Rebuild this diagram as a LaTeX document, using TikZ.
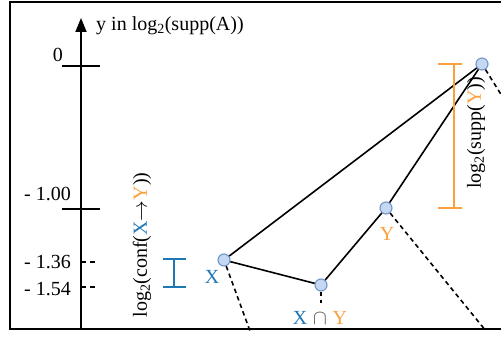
\documentclass[tikz,border=0pt]{standalone}
\usepackage{fontspec}
\setmainfont{Liberation Serif}
\usepackage{xcolor}
\usetikzlibrary{arrows.meta}

\definecolor{setblue}{RGB}{31,119,180}
\definecolor{setorange}{RGB}{250,160,60}
\definecolor{nodefill}{RGB}{198,216,241}
\definecolor{nodeline}{RGB}{110,148,204}
\definecolor{capgray}{RGB}{85,85,85}

\begin{document}
\begin{tikzpicture}[
    x=1pt, y=-1pt,
    every node/.style={font=\fontsize{20}{24}\selectfont, inner sep=1pt},
    itemset/.style={circle, draw=nodeline, fill=nodefill, line width=1.1pt,
                    minimum size=12pt, inner sep=0pt},
    edge/.style={line width=1.6pt},
    child/.style={line width=1.6pt, dash pattern=on 4.5pt off 3.5pt},
    tick/.style={line width=1.6pt},
    bar/.style={line width=1.8pt}
]
\useasboundingbox (0,0) rectangle (501,337);
\clip (0,0) rectangle (501,337);

% frame
\draw[line width=2.2pt] (520,2) -- (10,2) -- (10,329) -- (520,329);

% axis
\coordinate (axisbot) at (81,329);
\coordinate (axistop) at (81,18);
\draw[line width=1.8pt, -{Triangle[length=14pt, width=11pt]}] (axisbot) -- (axistop);
\node (axislabel) [anchor=west] at (95,26) {y in log\textsubscript{2}(supp(A))};

\coordinate (t0) at (81,66);
\coordinate (t1) at (81,209);
\coordinate (t2) at (81,262);
\coordinate (t3) at (81,287);
\draw[tick] ([xshift=-19pt]t0) -- ([xshift=19pt]t0);
\draw[tick] ([xshift=-19pt]t1) -- ([xshift=19pt]t1);
\draw[tick, dash pattern=on 5pt off 4pt] (t2) -- ([xshift=16pt]t2);
\draw[tick, dash pattern=on 5pt off 4pt] (t3) -- ([xshift=16pt]t3);
\node (l0) [anchor=east] at (64,55)  {0};
\node (l1) [anchor=east] at (72,194) {- 1.00};
\node (l2) [anchor=east] at (72,262) {- 1.36};
\node (l3) [anchor=east] at (72,289) {- 1.54};

% itemsets
\node (root)   [itemset] at (482,64)  {};
\node (nodeY)  [itemset] at (386,208) {};
\node (nodeXY) [itemset] at (321,285) {};
\node (nodeX)  [itemset] at (224,260) {};

\node (labX)  [text=setblue]   at (212,277) {$\mathrm{X}$};
\node (labY)  [text=setorange] at (387,234) {$\mathrm{Y}$};
\node (labXY) at (320,318)
    {$\textcolor{setblue}{\mathrm{X}}\;\textcolor{capgray}{\cap}\;\textcolor{setorange}{\mathrm{Y}}$};

\draw[edge] (nodeX) -- (root);
\draw[edge] (nodeX) -- (nodeXY);
\draw[edge] (nodeXY) -- (nodeY);
\draw[edge] (nodeY) -- (root);

% children out of view
\coordinate (cX)  at (250,331);
\coordinate (cXY) at (321,303);
\coordinate (cY)  at (486,331);
\coordinate (cR)  at (512,112);
\draw[child] (nodeX) -- (cX);
\draw[child] (nodeXY) -- (cXY);
\draw[child] (nodeY) -- (cY);
\draw[child] (root) -- (cR);

% supp(Y)
\coordinate (sTop) at (454,64);
\coordinate (sBot) at (454,208);
\draw[bar, setorange] (sTop) -- (sBot);
\draw[bar, setorange] ([xshift=-16pt]sTop) -- ([xshift=8pt]sTop);
\draw[bar, setorange] ([xshift=-16pt]sBot) -- ([xshift=8pt]sBot);
\node (suppY) [rotate=90] at (476,133)
    {log\textsubscript{2}(supp(\textcolor{setorange}{$\mathrm{Y}$}))};

% conf(X->Y)
\coordinate (cTop) at (174,259);
\coordinate (cBot) at (174,287);
\draw[bar, setblue] (cTop) -- (cBot);
\draw[bar, setblue] ([xshift=-11pt]cTop) -- ([xshift=12pt]cTop);
\draw[bar, setblue] ([xshift=-11pt]cBot) -- ([xshift=12pt]cBot);
\node (confXY) [rotate=90] at (142,245)
    {log\textsubscript{2}(conf(\textcolor{setblue}{$\mathrm{X}$}$\rightarrow$\textcolor{setorange}{$\mathrm{Y}$}))};
\end{tikzpicture}
\end{document}
